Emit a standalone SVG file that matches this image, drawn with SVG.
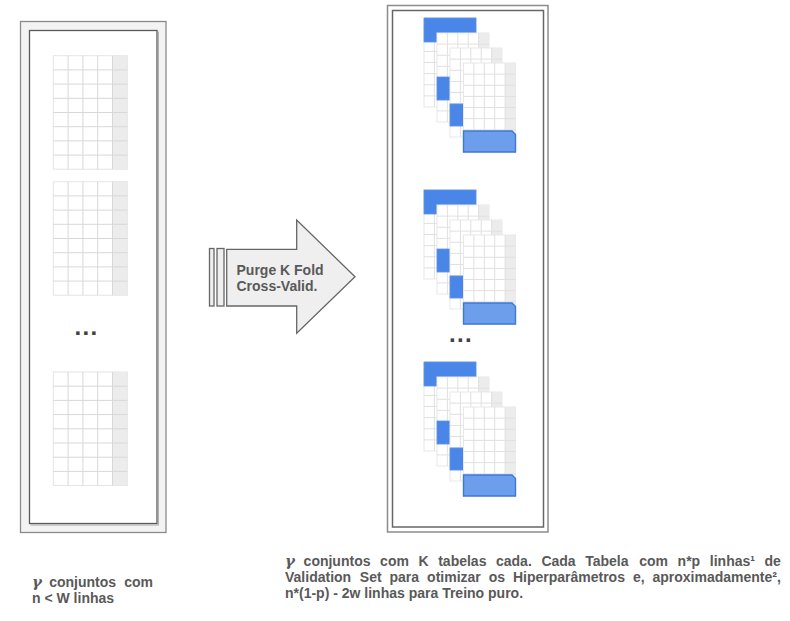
<svg xmlns="http://www.w3.org/2000/svg" xmlns:xlink="http://www.w3.org/1999/xlink" width="790" height="621" viewBox="0 0 790 621">
<style>
.t{font-family:"Liberation Sans",Arial,sans-serif;font-weight:bold;font-size:14px;fill:#595959}
.gm{font-family:"DejaVu Serif","Liberation Serif",serif;font-style:italic;font-weight:bold;font-size:15px;fill:#595959}
.dots{font-family:"Liberation Sans",Arial,sans-serif;font-weight:bold;font-size:24px;letter-spacing:1.3px;fill:#404040}
.box{fill:#efefef;stroke:#666;stroke-width:1.3}
.gl{stroke:#d8d8d8;stroke-width:1;fill:none}
.gs{stroke:#e0e0e0;stroke-width:1;fill:none}
.bl{fill:#4a86e8;stroke:#5b93ec;stroke-width:0.8}
.bl2{fill:#6d9eeb;stroke:#3c78d8;stroke-width:1.4}
</style>
<defs>
<g id="lt">
<rect width="74" height="113.5" fill="#fff" stroke="#e4e4e4"/>
<rect x="59.2" width="14.8" height="113.5" fill="#ececec"/>
<path class="gl" d="M14.8,0V113.5M29.6,0V113.5M44.4,0V113.5M59.2,0V113.5M0,14.2H74M0,28.4H74M0,42.6H74M0,56.8H74M0,71H74M0,85.2H74M0,99.4H74"/>
</g>
<g id="st">
<rect width="52" height="89" fill="#fff" stroke="#e8e8e8"/>
<rect x="41.6" width="10.4" height="89" fill="#ececec"/>
<path class="gs" d="M10.4,0V89M20.8,0V89M31.2,0V89M41.6,0V89M0,11.1H52M0,22.25H52M0,33.4H52M0,44.5H52M0,55.6H52M0,66.75H52M0,77.9H52"/>
</g>
<g id="stack">
<use xlink:href="#st" href="#st" x="424" y="18"/>
<rect class="bl" x="424" y="18" width="52" height="24"/>
<use xlink:href="#st" href="#st" x="437" y="33"/>
<rect class="bl" x="437" y="77" width="52" height="23"/>
<use xlink:href="#st" href="#st" x="450" y="48"/>
<rect class="bl" x="450" y="104" width="52" height="22"/>
<use xlink:href="#st" href="#st" x="463.5" y="63"/>
<path class="bl2" d="M463.5,131H512L515.5,134.5V152H463.5Z"/>
</g>
</defs>

<g id="left-panel">
<rect x="20.5" y="21.5" width="145.5" height="511" fill="#f3f3f3" stroke="#8a8a8a" stroke-width="1.3"/>
<rect x="29.5" y="30.5" width="127.5" height="493" fill="#fff" stroke="#5a5a5a" stroke-width="1.3"/>
<path d="M158.3,31.5V525H30.5" fill="none" stroke="#a8a8a8" stroke-width="1.2"/>
</g>
<g id="left-table-1"><use xlink:href="#lt" href="#lt" x="53.3" y="55.7"/></g>
<g id="left-table-2"><use xlink:href="#lt" href="#lt" x="53.3" y="181.7"/></g>
<g id="left-table-3"><use xlink:href="#lt" href="#lt" x="53.3" y="372"/></g>
<text class="dots" x="74.5" y="335">...</text>

<g id="arrow">
<rect class="box" x="209.5" y="248.5" width="4.5" height="57.5"/>
<rect class="box" x="217" y="248.5" width="7" height="57.5"/>
<path class="box" d="M226.7,249.3H296.7V220L355,276.7L296.7,333.3V306H226.7Z"/>
<text class="t" x="236.5" y="274.5">Purge K Fold</text>
<text class="t" x="236.5" y="290.5">Cross-Valid.</text>
</g>

<g id="right-panel">
<rect x="387.5" y="5.5" width="160.5" height="526.5" fill="#fff" stroke="#8c8c8c" stroke-width="1.5"/>
<rect x="392.5" y="10.5" width="151" height="516.5" fill="#fff" stroke="#666" stroke-width="1.5"/>
</g>
<g id="stack-1"><use xlink:href="#stack" href="#stack"/></g>
<g id="stack-2"><use xlink:href="#stack" href="#stack" y="172"/></g>
<g id="stack-3"><use xlink:href="#stack" href="#stack" y="344"/></g>
<text class="dots" x="449" y="342">...</text>

<g id="caption-left">
<text class="t" y="587"><tspan class="gm" x="32">γ</tspan><tspan x="49.2">conjuntos</tspan><tspan x="124.2">com</tspan></text>
<text class="t" x="32" y="603">n &lt; W linhas</text>
</g>
<g id="caption-right">
<text class="t" y="566"><tspan class="gm" x="285">γ</tspan><tspan x="303.6">conjuntos</tspan><tspan x="380.1">com</tspan><tspan x="418.5">K</tspan><tspan x="438.2">tabelas</tspan><tspan x="496">cada.</tspan><tspan x="541.4">Cada</tspan><tspan x="585.2">Tabela</tspan><tspan x="639.2">com</tspan><tspan x="677.6">n*p</tspan><tspan x="709.8">linhas¹</tspan><tspan x="764.5">de</tspan></text>
<text class="t" y="582"><tspan x="285">Validation</tspan><tspan x="359.8">Set</tspan><tspan x="389.5">para</tspan><tspan x="427.1">otimizar</tspan><tspan x="488.7">os</tspan><tspan x="512.9">Hiperparâmetros</tspan><tspan x="632.9">e,</tspan><tspan x="652.5">aproximadamente²,</tspan></text>
<text class="t" x="285" y="598">n*(1-p) - 2w linhas para Treino puro.</text>
</g>
</svg>
